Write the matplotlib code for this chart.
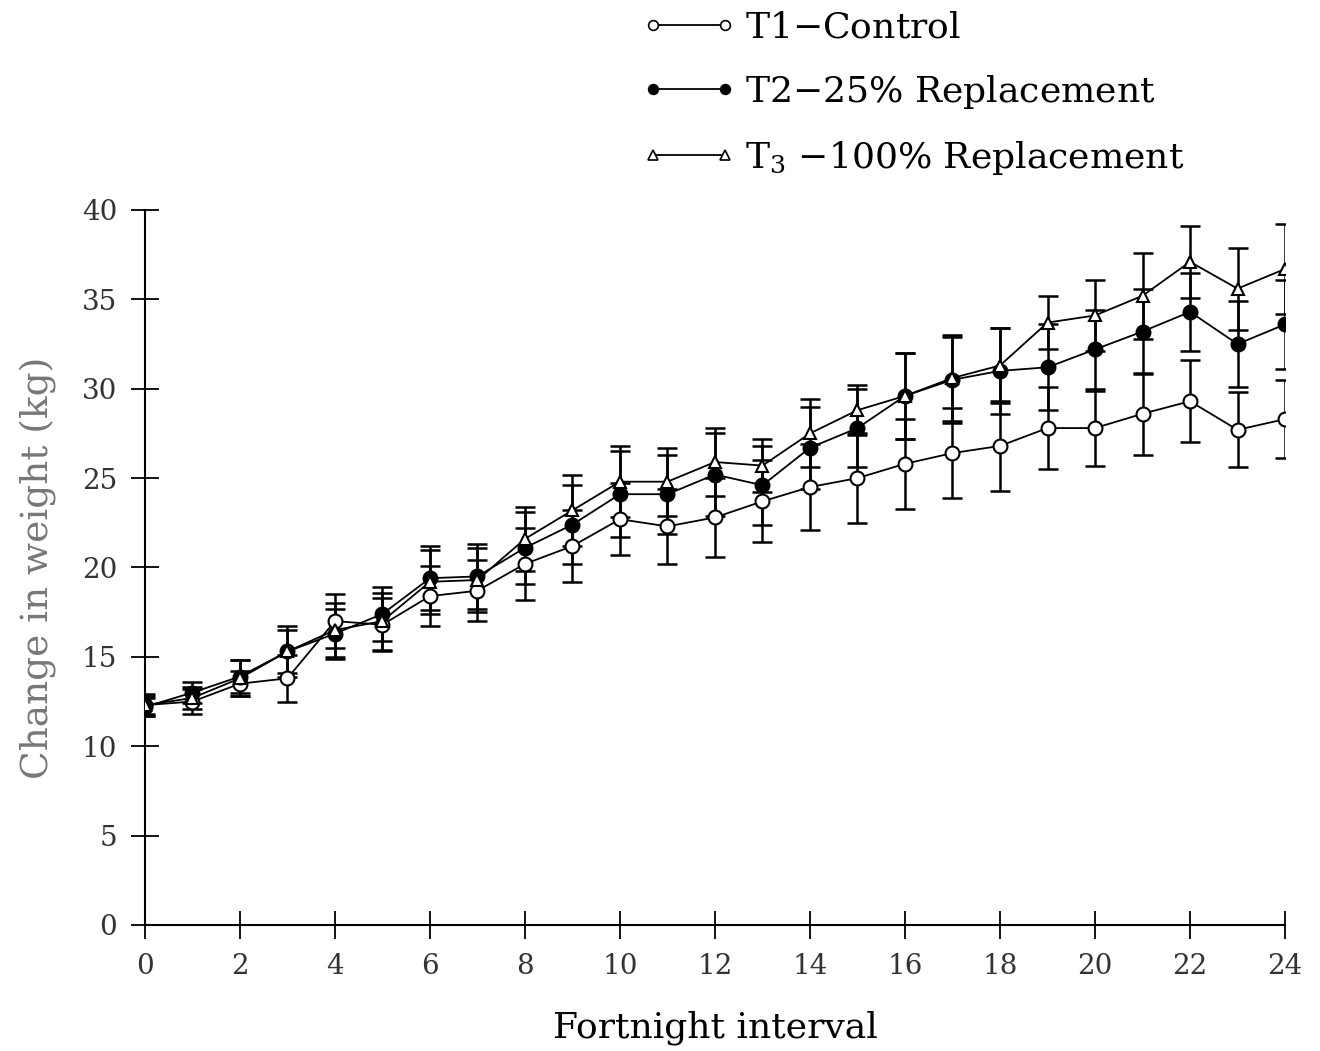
import numpy as np
from matplotlib import pyplot as plt
from matplotlib.lines import Line2D

plt.rcParams['font.family'] = ['DejaVu Serif']
plt.rcParams['mathtext.fontset'] = 'dejavuserif'

fortnight = list(range(25))

t1_mean = [12.3, 12.5, 13.5, 13.8, 17.0, 16.8, 18.4, 18.7, 20.2, 21.2, 22.7, 22.3, 22.8,
           23.7, 24.5, 25.0, 25.8, 26.4, 26.8, 27.8, 27.8, 28.6, 29.3, 27.7, 28.3]
t2_mean = [12.2, 13.0, 13.9, 15.3, 16.3, 17.4, 19.4, 19.5, 21.1, 22.4, 24.1, 24.1, 25.2,
           24.6, 26.7, 27.8, 29.6, 30.5, 31.0, 31.2, 32.2, 33.2, 34.3, 32.5, 33.6]
t3_mean = [12.3, 12.7, 13.8, 15.3, 16.5, 17.0, 19.2, 19.3, 21.6, 23.2, 24.8, 24.8, 25.9,
           25.7, 27.5, 28.8, 29.6, 30.6, 31.3, 33.7, 34.1, 35.2, 37.1, 35.6, 36.7]

t1_err = [0.5, 0.7, 0.7, 1.3, 1.5, 1.5, 1.7, 1.7, 2.0, 2.0, 2.0, 2.1, 2.2,
          2.3, 2.4, 2.5, 2.5, 2.5, 2.5, 2.3, 2.1, 2.3, 2.3, 2.1, 2.2]
t2_err = [0.5, 0.6, 0.9, 1.2, 1.4, 1.5, 1.8, 1.8, 2.0, 2.2, 2.4, 2.2, 2.3,
          2.2, 2.3, 2.2, 2.4, 2.4, 2.4, 2.4, 2.2, 2.4, 2.2, 2.4, 2.5]
t3_err = [0.6, 0.6, 1.0, 1.4, 1.5, 1.6, 1.8, 1.8, 1.8, 2.0, 2.0, 1.9, 1.9,
          1.5, 1.9, 1.4, 2.4, 2.4, 2.1, 1.5, 2.0, 2.4, 2.0, 2.3, 2.5]

labels = ['T1$-$Control', 'T2$-$25% Replacement', 'T$_3$ $-$100% Replacement']

fig = plt.figure(figsize=(13.2, 10.51), dpi=100)
ax = fig.add_axes([0.1098, 0.1199, 0.8637, 0.6803])

series = [
    (t1_mean, t1_err, 'o', 'white', 10),
    (t2_mean, t2_err, 'o', 'black', 10),
    (t3_mean, t3_err, '^', 'white', 9),
]
for mean, err, marker, face, size in series:
    ax.errorbar(fortnight, mean, yerr=err, fmt='none', ecolor='black',
                elinewidth=1.8, capsize=7, capthick=1.8, zorder=2)
    ax.plot(fortnight, mean, color='black', lw=1.3, marker=marker, ms=size,
            mfc=face, mec='black', mew=1.5, zorder=3)

ax.set_xlim(0, 24)
ax.set_ylim(0, 40)
ax.set_xticks(range(0, 25, 2))
ax.set_yticks(range(0, 41, 5))
ax.spines['top'].set_visible(False)
ax.spines['right'].set_visible(False)
for s in ['left', 'bottom']:
    ax.spines[s].set_linewidth(1.5)
ax.tick_params(direction='inout', length=20, width=1.3, labelsize=20,
               labelcolor='#333333', pad=10)
ax.set_xlabel('Fortnight interval', fontsize=26, labelpad=22)
ax.set_ylabel('Change in weight (kg)', fontsize=27, color='#777777', labelpad=18)

handles = []
for marker, face in [('o', 'white'), ('o', 'black'), ('^', 'white')]:
    handles.append(Line2D([], [], color='black', lw=1.3, marker=marker, ms=7,
                          mfc=face, mec='black', mew=1.2))
fig.legend(handles, labels, loc='upper left', bbox_to_anchor=(0.462, 1.021),
           frameon=False, numpoints=2, handlelength=2.6, handletextpad=0.25,
           labelspacing=0.78, fontsize=26)

fig.savefig('out.png', dpi=100)
